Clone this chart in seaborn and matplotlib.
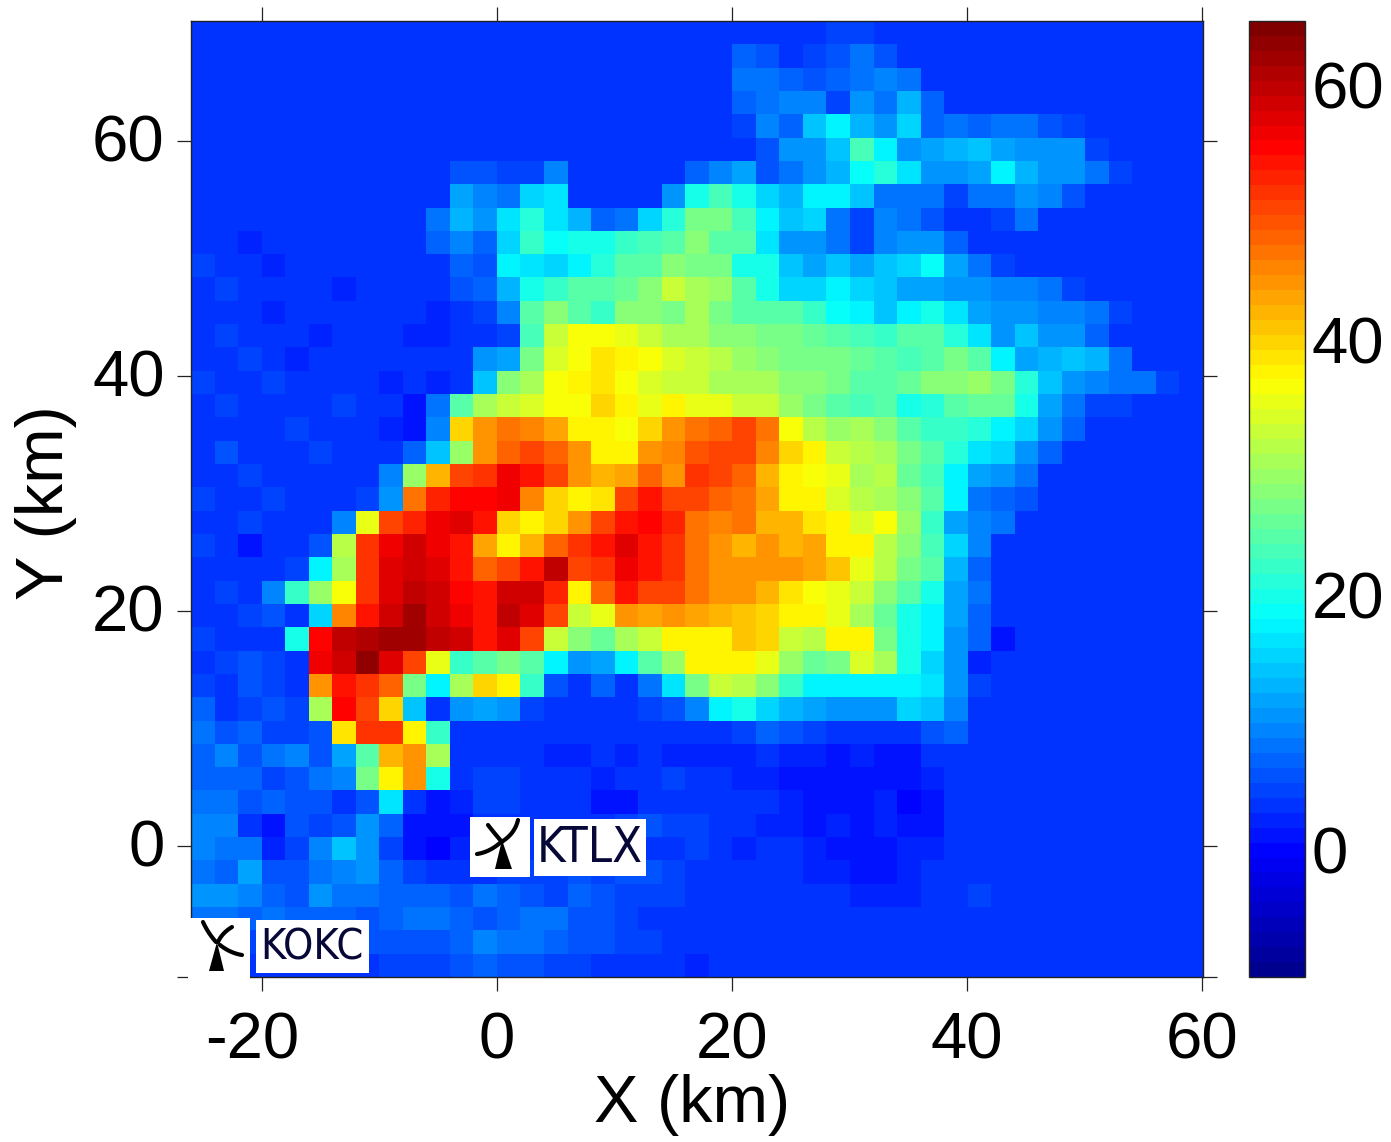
import numpy as np
import pandas as pd
import matplotlib
matplotlib.use("Agg")
import matplotlib.pyplot as plt
from matplotlib import font_manager as fm
from matplotlib.colors import LinearSegmentedColormap
from matplotlib.patches import Rectangle, Polygon
from matplotlib.transforms import ScaledTranslation
import seaborn as sns

# Reflectivity (dBZ) on a 2 km grid, rows from north to south,
# columns from x=-25 to x=59; rows shorter than the grid end in background echo.
BG = 3
r69 = [3]*27 + [5,5]
r67 = [3]*23 + [7,6,4,5,6,8,6,4]
r65 = [3]*23 + [8,8,7,6,7,8,9,8,4]
r63 = [3]*23 + [7,8,9,9,5,11,8,13,7,4]
r61 = [3]*23 + [5,9,7,14,17,13,11,15,7,8,7,8,8,6,5]
r59 = [3]*24 + [6,10,11,14,23,17,10,12,13,14,12,11,10,11,5]
r57 = [3]*11 + [6,6,5,5,9,3,3,3,3,3,7,9,12,6,8,11,13,19,21,16,11,10,12,17,13,11,10,8,5]
r55 = [3]*11 + [12,9,8,15,16,4,4,3,3,11,20,23,20,15,13,17,18,14,8,8,8,5,8,8,11,9,6]
r53 = [3,3,4,3,3,3,3,3,3,3,8,13,10,16,21,16,13,7,8,15,21,27,27,23,17,14,15,8,5,9,8,6,3,3,5,8,4]
r51 = [3,3,2,3,3,3,3,3,3,3,7,9,7,15,22,19,20,20,22,23,24,28,25,24,16,11,10,8,5,9,11,10,7,4]
r49 = [5,4,3,2,3,3,3,3,3,3,3,7,6,18,16,15,17,21,24,25,28,27,27,20,20,14,12,14,12,14,15,19,12,8,5,4]
r47 = [3,5,4,3,3,3,2,3,3,3,3,6,7,13,20,22,24,25,26,28,33,31,29,25,20,15,15,17,15,14,12,12,10,10,9,9,8,5,4]
r45 = [4,3,3,2,3,3,4,3,4,3,2,3,5,9,25,28,24,22,28,28,27,30,27,24,24,24,22,19,17,14,17,20,16,12,11,11,9,9,8,5]
r43 = [4,5,3,4,3,2,3,4,3,2,2,3,3,5,23,33,36,36,35,33,31,31,28,28,27,27,26,24,23,22,25,25,21,16,10,14,11,10,7,4]
r41 = [3,4,5,3,2,3,4,3,3,3,4,3,10,12,27,34,36,39,38,36,34,33,32,29,28,27,27,27,26,24,23,25,27,24,18,12,13,14,13,8,4]
r39 = [5,3,4,5,3,4,3,3,2,3,2,4,14,28,30,36,37,39,36,34,33,33,31,31,30,28,28,27,25,25,26,28,28,29,27,21,14,11,9,8,8,5]
r37 = [3,5,4,3,4,3,5,3,3,1,8,24,31,33,34,36,36,40,37,35,37,35,35,33,33,29,27,25,23,25,20,21,24,26,26,20,12,8,5,5,3]
r35 = [4,3,4,4,5,4,3,4,2,1,9,40,44,47,46,43,38,38,36,40,45,47,48,50,47,36,32,29,30,28,24,22,22,21,18,15,10,7,4]
r33 = [3,6,3,4,3,5,4,3,4,7,14,29,45,48,50,48,44,38,37,44,46,49,50,50,46,40,37,33,32,31,27,24,21,16,15,11,7,4]
r31 = [4,3,5,4,4,3,3,4,9,29,42,50,52,56,54,50,45,42,43,48,45,52,50,48,42,38,36,35,30,32,26,23,18,12,11,8,4]
r29 = [5,3,3,5,3,4,3,5,10,47,53,55,55,56,46,40,38,39,50,54,50,50,48,47,43,38,37,34,32,31,28,24,17,8,7,6,4]
r27 = [3,4,5,3,4,3,9,35,50,53,56,57,54,40,37,40,44,50,54,55,53,47,46,47,42,42,39,37,34,36,29,22,12,9,8,4]
r25 = [5,3,1,4,4,6,32,52,56,58,56,54,43,38,42,48,52,54,57,54,52,47,45,42,44,42,43,38,37,32,28,23,15,9,4]
r23 = [4,3,4,3,5,18,30,51,57,59,57,54,48,50,54,60,50,52,56,54,52,47,45,44,44,44,43,41,35,32,27,24,13,7,3]
r21 = [3,5,4,9,22,29,36,52,57,60,58,55,54,59,59,53,37,48,54,50,50,47,44,44,42,39,36,35,33,28,24,20,12,8,3]
r19 = [4,3,5,6,4,15,46,54,58,62,58,56,54,60,57,50,33,35,45,43,45,43,42,41,40,37,37,35,31,26,20,17,12,7]
r17 = [5,4,4,4,20,55,60,61,62,62,60,58,54,57,50,33,28,26,30,33,38,38,38,41,40,33,32,38,37,27,20,18,11,7,1]
r15 = [4,5,6,5,4,56,58,63,57,50,35,22,25,27,25,18,10,12,17,24,29,37,38,38,35,29,26,27,34,30,20,15,11,2]
r13 = [5,4,6,5,4,45,54,52,48,27,18,30,40,38,22,6,4,7,4,8,16,27,33,32,28,22,18,17,18,17,17,16,10,5]
r11 = [7,4,5,6,5,30,55,50,40,14,3,10,12,10,5,3,3,4,3,5,6,9,18,20,15,13,12,11,11,11,15,14,9,4]
r9  = [8,6,7,5,5,6,39,52,52,38,22,3,3,3,4,3,3,3,3,3,3,4,4,5,7,6,5,4,4,3,4,6,7,3]
r7  = [7,9,6,8,9,6,12,24,42,45,30,3,3,4,3,2,2,3,2,3,2,2,2,2,3,2,2,1,2,1,1,3,3,3]
r5  = [7,7,7,5,6,8,9,27,38,44,20,3,5,5,4,3,3,2,3,3,5,3,3,2,2,1,1,1,1,1,1,2,3]
r3  = [8,8,6,7,6,6,4,6,16,3,1,2,5,5,4,3,3,1,1,3,4,3,3,3,3,2,1,1,1,2,0,1,3]
r1  = [9,9,4,1,6,5,6,10,7,1,1,1,4,4,4,4,4,4,5,6,5,5,4,3,2,2,1,2,1,2,1,1,3]
rm1 = [9,8,8,2,5,9,14,10,5,1,0,2,4,4,4,4,5,6,5,4,4,5,4,2,3,3,2,1,1,1,2,2,3]
rm3 = [8,7,12,6,6,8,9,10,7,5,4,4,4,5,5,5,6,5,6,6,5,4,3,4,4,3,2,2,1,1,2,3]
rm5 = [10,10,9,7,6,10,8,8,7,7,7,6,8,7,6,5,7,6,5,5,5,4,4,3,4,3,3,3,2,2,2,4,3,5]
rm7 = [8,8,7,8,7,7,7,6,7,8,8,7,6,7,8,8,6,6,5,4,4,4,4,3,3,3,3]
rm9 = [5,5,5,5,5,5,6,6,6,6,6,7,9,8,8,7,6,6,5,5,4,4,3,3,3,3,3]
rm11 = [3,3,3,3,3,3,3,4,5,5,5,6,7,6,6,5,5,4,4,3,3,2,3,3,3,3,3]

rows = [r69,r67,r65,r63,r61,r59,r57,r55,r53,r51,r49,r47,r45,r43,r41,r39,r37,r35,r33,r31,
        r29,r27,r25,r23,r21,r19,r17,r15,r13,r11,r9,r7,r5,r3,r1,rm1,rm3,rm5,rm7,rm9,rm11]
x_centres = list(range(-25, 60, 2))
y_centres = list(range(69, -12, -2))
x_ticks = [-20, 0, 20, 40, 60]
y_ticks = [60, 40, 20, 0]
cbar_ticks = [0, 20, 40, 60]

W, H = 1391, 1142
NC = len(x_centres)
reflect = pd.DataFrame([r + [BG]*(NC-len(r)) for r in rows], index=y_centres, columns=x_centres, dtype=float)

# jet as MATLAB defines it, in 64 steps
jet64 = LinearSegmentedColormap('jet64', {
    'red':   [(0, 0, 0), (.375, 0, 0), (.625, 1, 1), (.875, 1, 1), (1, .5, .5)],
    'green': [(0, 0, 0), (.125, 0, 0), (.375, 1, 1), (.625, 1, 1), (.875, 0, 0), (1, 0, 0)],
    'blue':  [(0, .5625, .5625), (.125, 1, 1), (.375, 1, 1), (.625, 0, 0), (1, 0, 0)]}, N=64)

sns.set_theme(style="white")
plt.rcParams['font.family'] = ['Liberation Sans', 'DejaVu Sans']
cond_path = fm.findfont(fm.FontProperties(family='DejaVu Sans', stretch='condensed'), fallback_to_default=True)
has_cond = 'condensed' in cond_path.lower()

fig = plt.figure(figsize=(W/100, H/100), dpi=100)
def box(l, t, r, b):
    return [l/W, (H-b)/H, (r-l)/W, (b-t)/H]
ax = fig.add_axes(box(191, 21, 1203, 977))
cax = fig.add_axes(box(1249, 21, 1305, 977))

sns.heatmap(reflect, ax=ax, cbar_ax=cax, cmap=jet64, vmin=-10, vmax=65,
            xticklabels=False, yticklabels=False, cbar_kws=dict(ticks=cbar_ticks))

# data-km to heatmap cell index
X0, DX = -26.04, 86.12/NC
Y0, DY = 70.24, 81.42/len(y_centres)
ax.set_xticks([(v-X0)/DX for v in x_ticks], labels=[str(v) for v in x_ticks])
ax.set_yticks([(Y0-v)/DY for v in y_ticks] + [len(y_centres)], labels=[str(v) for v in y_ticks] + [''])
ax.tick_params(axis='x', which='major', labelsize=47, length=10, width=0.9, color='#222222',
               direction='out', top=True, bottom=True, labelcolor='black', pad=15)
ax.tick_params(axis='y', which='major', labelsize=47, length=10, width=0.9, color='#222222',
               direction='out', left=True, right=True, labelcolor='black', pad=9)
plt.setp(ax.get_xticklabels(), rotation=0)
plt.setp(ax.get_yticklabels(), rotation=0)
for lab in ax.get_yticklabels():
    lab.set_transform(lab.get_transform() + ScaledTranslation(0, 3/100, fig.dpi_scale_trans))
lab0 = ax.get_xticklabels()[0]
lab0.set_transform(lab0.get_transform() + ScaledTranslation(-10/100, 0, fig.dpi_scale_trans))
ax.set_xlabel('X (km)', fontsize=48, color='black', labelpad=0)
ax.set_ylabel('Y (km)', fontsize=48, color='black', labelpad=6)
ax.xaxis.set_label_coords((692-191)/1012, -(1105-977)/956, transform=ax.transAxes)
ax.xaxis.label.set_va('center')
ax.yaxis.set_label_coords((46-191)/1012, 1-(503-21)/956, transform=ax.transAxes)
ax.yaxis.label.set_va('center')
for s in ax.spines.values():
    s.set_visible(True); s.set_linewidth(1.0); s.set_color('#222222')

cax.tick_params(axis='y', labelsize=47, length=7, width=0.9, direction='in', left=True, right=True,
                color='#222222', labelcolor='black', pad=5)
cb = ax.collections[0].colorbar
cb.outline.set_visible(True)
cb.outline.set_linewidth(1.0)
cb.outline.set_edgecolor('#222222')

# overlay in picture pixels for the radar-site labels
ov = fig.add_axes([0, 0, 1, 1], zorder=10)
ov.set_xlim(0, W); ov.set_ylim(H, 0); ov.axis('off')

def site(box_icon, box_text, name, tx, size_cond, size_plain, tower, blades):
    for (l, t, r, b) in (box_icon, box_text):
        ov.add_patch(Rectangle((l, t), r-l, b-t, fc='white', ec='none'))
    kw = dict(family='DejaVu Sans', stretch='condensed', fontsize=size_cond) if has_cond \
        else dict(family='Liberation Sans', fontsize=size_plain)
    ov.text(tx, (box_text[1]+box_text[3])/2+1, name, color='#080838', ha='center', va='center', **kw)
    ov.add_patch(Polygon(tower, fc='black', ec='none'))
    for bl in blades:
        xs, ys = zip(*bl)
        t = np.linspace(0, 1, 20)
        px = (1-t)**2*xs[0] + 2*t*(1-t)*xs[1] + t**2*xs[2]
        py = (1-t)**2*ys[0] + 2*t*(1-t)*ys[1] + t**2*ys[2]
        ov.plot(px, py, color='black', lw=3, solid_capstyle='round')

site((470, 817, 530, 877), (534, 819, 646, 876), 'KTLX', 590, 35, 32,
     [(495, 869), (512, 869), (502, 840)],
     [[(488, 825), (495, 834), (502, 842)], [(518, 820), (515, 833), (503, 841)], [(477, 854), (490, 852), (501, 842)]])
site((188, 918, 250, 979), (256, 920, 369, 973), 'KOKC', 312, 31, 28,
     [(209, 971), (224, 971), (217, 942)],
     [[(203, 922), (208, 933), (216, 942)], [(232, 927), (222, 933), (218, 942)], [(242, 955), (230, 953), (220, 945)]])

fig.savefig('out.png', dpi=100)
